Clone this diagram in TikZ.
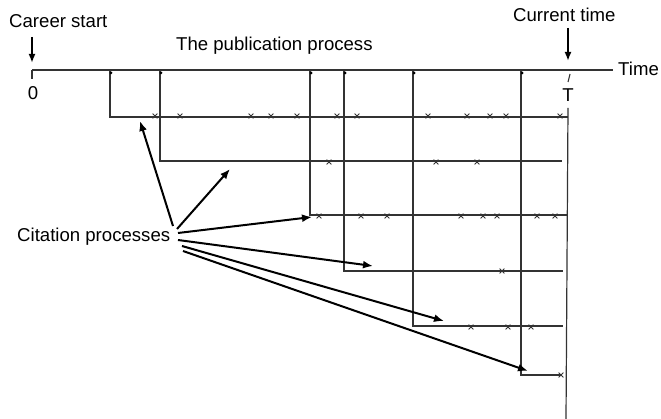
\documentclass[tikz,border=0pt]{standalone}
\usepackage{fontspec}
\setmainfont{Liberation Sans}
\usetikzlibrary{arrows.meta}
\begin{document}
\begin{tikzpicture}[x=1pt,y=-1pt,
  lbl/.style={inner sep=0pt,anchor=base west,font=\fontsize{18.6}{22}\selectfont},
  axisline/.style={line width=1.4pt,draw=black!80},
  procline/.style={line width=1.2pt,draw=black!80},
  bigarrow/.style={line width=2pt,-{Latex[length=10pt,width=8pt]}},
  downarrow/.style={line width=1.8pt,-{Latex[length=9pt,width=7pt]}},
  cross/.style={line width=0.9pt,draw=black!80}]
\useasboundingbox (0,0) rectangle (661,419);
\newcommand{\xmark}[2]{\draw[cross] (#1-2.4,#2-2.4) -- (#1+2.4,#2+2.4) (#1-2.4,#2+2.4) -- (#1+2.4,#2-2.4);}
% labels
\node[lbl] (career) at (9,28) {Career start};
\node[lbl] (pub) at (176,51) {The publication process};
\node[lbl] (current) at (513,22) {Current time};
\node[lbl] (time) at (618,76) {Time};
\node[inner sep=0pt,anchor=base,font=\fontsize{18.6}{22}\selectfont] (zero) at (33,100) {0};
\node[inner sep=0pt,anchor=base,font=\fontsize{18.6}{22}\selectfont] (T) at (568,102) {T};
\node[lbl] (cit) at (17,242) {Citation processes};
% axis
\coordinate (a0) at (32,70);
\coordinate (aend) at (613,70);
\draw[axisline] (a0) -- (aend);
\draw[axisline] (a0) -- (32,79);
\draw[line width=1.1pt,draw=black!80] (570,74) -- (568,82);
% down arrows
\coordinate (cs1) at (32,37);
\coordinate (cs2) at (32,63);
\draw[downarrow] (cs1) -- (cs2);
\coordinate (ct1) at (568,28);
\coordinate (ct2) at (568,61);
\draw[downarrow] (ct1) -- (ct2);
% T line
\coordinate (Ttop) at (568,108);
\coordinate (Tbot) at (566,419);
\draw[procline] (Ttop) -- (Tbot);
% publication processes
\foreach \px/\py/\ex in {110/117/568, 160/161/562, 310/215/568, 344/271/563, 413/326/563, 521/375/562}{
  \draw[procline] (\px,71) -- (\px,\py) -- (\ex,\py);
  \fill (\px+1,73) circle (1.5pt);
}
% crosses
\foreach \cx in {155,180,251,271,297,337,357,428,467,490,506,560}{\xmark{\cx}{116}}
\foreach \cx in {329,436,477}{\xmark{\cx}{162}}
\foreach \cx in {319,361,387,461,483,497,537,555}{\xmark{\cx}{216}}
\foreach \cx in {502}{\xmark{\cx}{271}}
\foreach \cx in {471,508,531}{\xmark{\cx}{327}}
\foreach \cx in {561}{\xmark{\cx}{375}}
% citation arrows
\coordinate (s1) at (173,226);
\coordinate (s2) at (177,229);
\coordinate (s3) at (178,233);
\coordinate (s4) at (178,240);
\coordinate (s5) at (182,246);
\coordinate (s6) at (183,251);
\coordinate (t1) at (140,121);
\coordinate (t2) at (230,169);
\coordinate (t3) at (312,217);
\coordinate (t4) at (373,266);
\coordinate (t5) at (444,321);
\coordinate (t6) at (528,371);
\foreach \i in {1,...,6}{\draw[bigarrow] (s\i) -- (t\i);}
\end{tikzpicture}
\end{document}
